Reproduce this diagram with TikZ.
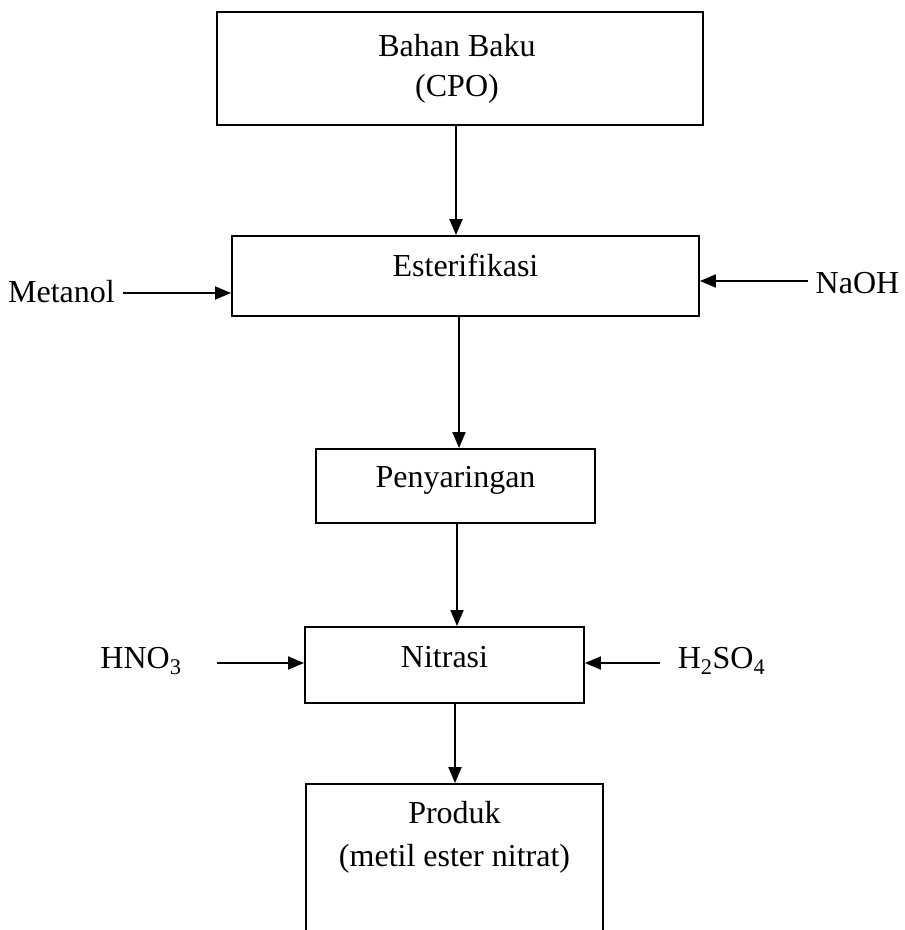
\documentclass[tikz,border=0pt]{standalone}
\usepackage{fontspec}
\setmainfont{Liberation Serif}
\usetikzlibrary{arrows.meta}
\begin{document}
\begin{tikzpicture}[x=1pt,y=-1pt,
  box/.style={draw, line width=1.9pt, rectangle, inner sep=0pt},
  lbl/.style={font=\fontsize{32}{40}\selectfont, align=center, inner sep=0pt},
  flow/.style={line width=1.9pt, -{Triangle[length=16pt,width=13pt]}}]
\useasboundingbox (0,0) rectangle (905,930);
\clip (0,0) rectangle (905,930);
% boxes
\node[box, minimum width=486pt, minimum height=113pt] (b1) at (460,68.5) {};
\node[box, minimum width=467pt, minimum height=80pt] (b2) at (465.5,276) {};
\node[box, minimum width=279pt, minimum height=74pt] (b3) at (455.5,486) {};
\node[box, minimum width=279pt, minimum height=76pt] (b4) at (444.5,665) {};
\node[box, minimum width=297pt, minimum height=176pt] (b5) at (454.5,872) {};
% box texts
\node[lbl] (t1) at (457,69) {Bahan Baku\\(CPO)};
\node[lbl] (t2) at (465.5,265) {Esterifikasi};
\node[lbl] (t3) at (455.5,480) {Penyaringan};
\node[lbl] (t4) at (444.5,657) {Nitrasi};
\node[lbl, font=\fontsize{32}{43}\selectfont] (t5) at (454.5,837) {Produk\\(metil ester nitrat)};
% side inputs
\node[lbl] (m) at (61.5,292) {Metanol};
\node[lbl] (n) at (857.5,283) {NaOH};
\node[lbl] (h1) at (141,661) {HNO\textsubscript{3}};
\node[lbl] (h2) at (721.5,661) {H\textsubscript{2}SO\textsubscript{4}};
% vertical flow
\coordinate (x1) at (456,0);
\coordinate (x2) at (459,0);
\coordinate (x3) at (457,0);
\coordinate (x4) at (455,0);
\draw[flow] (b1.south -| x1) -- (b2.north -| x1);
\draw[flow] (b2.south -| x2) -- (b3.north -| x2);
\draw[flow] (b3.south -| x3) -- (b4.north -| x3);
\draw[flow] (b4.south -| x4) -- (b5.north -| x4);
% side flows
\coordinate (ym) at (0,293);
\coordinate (yn) at (0,281);
\coordinate (yh) at (0,663);
\coordinate (sm) at (123,293);
\coordinate (sn) at (808,281);
\coordinate (sh1) at (217,663);
\coordinate (sh2) at (660,663);
\draw[flow] (sm) -- (b2.west |- ym);
\draw[flow] (sn) -- (b2.east |- yn);
\draw[flow] (sh1) -- (b4.west |- yh);
\draw[flow] (sh2) -- (b4.east |- yh);
\end{tikzpicture}
\end{document}
